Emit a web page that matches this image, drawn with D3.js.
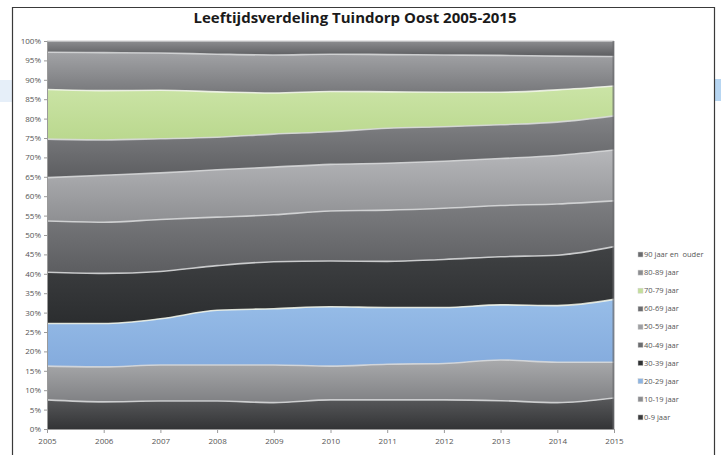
<!DOCTYPE html>
<html>
<head>
<meta charset="utf-8">
<script src="https://cdn.jsdelivr.net/npm/d3@7"></script>
<style>
  body { margin: 0; background: #fff; }
  text { font-family: "Open Sans", "Liberation Sans", sans-serif; }
</style>
</head>
<body>
<div id="chart"></div>
<script>
var years = [2005, 2006, 2007, 2008, 2009, 2010, 2011, 2012, 2013, 2014, 2015];
var labels = ["0-9 jaar", "10-19 jaar", "20-29 jaar", "30-39 jaar", "40-49 jaar",
  "50-59 jaar", "60-69 jaar", "70-79 jaar", "80-89 jaar", "90 jaar en  ouder"];
var yTicks = [0, 5, 10, 15, 20, 25, 30, 35, 40, 45, 50, 55, 60, 65, 70, 75, 80, 85, 90, 95, 100];

// share per age group, percent
var age0_9 = [7.5, 7.0, 7.2, 7.2, 6.8, 7.5, 7.5, 7.5, 7.3, 6.8, 8.0];
var age10_19 = [8.7, 9.0, 9.3, 9.3, 9.7, 8.7, 9.2, 9.4, 10.5, 10.4, 9.2];
var age20_29 = [11.0, 11.2, 11.9, 14.1, 14.5, 15.3, 14.6, 14.4, 14.2, 14.6, 16.2];
var age30_39 = [13.2, 12.9, 12.2, 11.5, 12.1, 11.8, 11.9, 12.4, 12.4, 13.0, 13.6];
var age40_49 = [13.2, 13.2, 13.4, 12.5, 12.1, 12.9, 13.2, 13.2, 13.2, 13.2, 11.8];
var age50_59 = [11.2, 12.1, 12.0, 12.2, 12.3, 12.0, 12.1, 12.1, 12.1, 12.5, 13.1];
var age60_69 = [9.9, 9.1, 8.8, 8.4, 8.5, 8.4, 9.0, 8.9, 8.7, 8.6, 8.8];
var age70_79 = [12.8, 12.7, 12.5, 11.7, 10.6, 10.4, 9.4, 8.9, 8.4, 8.3, 7.7];
var age80_89 = [9.6, 9.8, 9.6, 9.7, 9.8, 9.6, 9.6, 9.6, 9.5, 8.7, 7.6];
var age90 = [2.9, 3.0, 3.1, 3.4, 3.6, 3.4, 3.5, 3.6, 3.7, 3.9, 4.0];

var seriesVals = [age0_9, age10_19, age20_29, age30_39, age40_49,
  age50_59, age60_69, age70_79, age80_89, age90];

// [top colour, bottom colour] per band
var bandColors = [
  ["#58595b", "#333436"],
  ["#a9aaac", "#7f8083"],
  ["#97bde8", "#84abdd"],
  ["#404244", "#2b2d2f"],
  ["#7d7e81", "#5c5d60"],
  ["#b6b7ba", "#8e8f92"],
  ["#828386", "#5d5e61"],
  ["#cbe4a6", "#bad88e"],
  ["#a2a3a6", "#77787b"],
  ["#8c8d90", "#5b5c5f"]
];
var legendSwatch = ["#3a3b3d", "#8c8d90", "#8db4e2", "#2f3133", "#6b6c6f",
  "#9fa0a3", "#6c6d70", "#c4df9b", "#8c8d90", "#6a6b6e"];

var table = years.map(function (yr, i) {
  var row = { year: yr };
  labels.forEach(function (k, j) { row[k] = seriesVals[j][i]; });
  return row;
});

var W = 721, H = 455;
var margin = { top: 41, right: 107, bottom: 26, left: 47 },
  width = W - margin.left - margin.right,
  height = H - margin.top - margin.bottom;

var svg = d3.select("#chart").append("svg")
  .attr("width", W).attr("height", H);

// light blue strips behind the frame
svg.append("rect").attr("x", 0).attr("y", 80).attr("width", 12).attr("height", 22).attr("fill", "#e6eff9");
svg.append("rect").attr("x", 715).attr("y", 79).attr("width", 6).attr("height", 22).attr("fill", "#b7d6f2");

// frame
svg.append("path")
  .attr("d", "M12.5,458 V7.5 H714.5 V458")
  .attr("fill", "none").attr("stroke", "#3a3a3a").attr("stroke-width", 1.2);

svg.append("text")
  .attr("x", 355).attr("y", 23)
  .attr("text-anchor", "middle")
  .style("font-size", "15px").style("font-weight", "bold")
  .attr("fill", "#1a1a1a")
  .text("Leeftijdsverdeling Tuindorp Oost 2005-2015");

var defs = svg.append("defs");
bandColors.forEach(function (c, i) {
  var g = defs.append("linearGradient").attr("id", "grad" + i)
    .attr("x1", 0).attr("y1", 0).attr("x2", 0).attr("y2", 1);
  g.append("stop").attr("offset", "0%").attr("stop-color", c[0]);
  g.append("stop").attr("offset", "100%").attr("stop-color", c[1]);
});

var focus = svg.append("g")
  .attr("transform", "translate(" + margin.left + "," + margin.top + ")");

var x = d3.scaleLinear().domain([2005, 2015]).range([0, width]);
var y = d3.scaleLinear().domain([0, 100]).range([height, 0]);

var stack = d3.stack().keys(labels);
var layers = stack(table);

var area = d3.area()
  .curve(d3.curveMonotoneX)
  .x(function (d) { return x(d.data.year); })
  .y0(function (d) { return y(d[0]); })
  .y1(function (d) { return y(d[1]); });

var topLine = d3.line()
  .curve(d3.curveMonotoneX)
  .x(function (d) { return x(d.data.year); })
  .y(function (d) { return y(d[1]); });

focus.selectAll(".band")
  .data(layers)
  .enter()
  .append("path")
  .attr("class", "band")
  .attr("d", area)
  .attr("fill", function (d, i) { return "url(#grad" + i + ")"; });

// bevel highlight along the top of every band
focus.selectAll(".edge")
  .data(layers)
  .enter()
  .append("path")
  .attr("class", "edge")
  .attr("d", topLine)
  .attr("fill", "none")
  .attr("stroke", function (d, i) { return i == 2 || i == 7 ? "#f4f8ec" : "#d8d9db"; })
  .attr("stroke-width", 1.6)
  .attr("opacity", 0.85);

// darker right-hand edge
focus.append("rect")
  .attr("x", width - 1.5).attr("y", 0).attr("width", 2).attr("height", height)
  .attr("fill", "#6a6b6e").attr("opacity", 0.7);

var xAxis = d3.axisBottom(x)
  .tickValues(years)
  .tickFormat(d3.format("d"))
  .tickSizeInner(4).tickSizeOuter(0);
var yAxis = d3.axisLeft(y)
  .tickValues(yTicks)
  .tickFormat(function (d) { return d + "%"; })
  .tickSizeInner(3).tickSizeOuter(0);

var gx = focus.append("g")
  .attr("transform", "translate(0," + height + ")")
  .call(xAxis);
var gy = focus.append("g").call(yAxis);

[gx, gy].forEach(function (g) {
  g.select(".domain").attr("stroke", "#9a9a9a");
  g.selectAll(".tick line").attr("stroke", "#9a9a9a");
  g.selectAll(".tick text")
    .attr("fill", "#555")
    .style("font-size", "8px");
});
gx.selectAll(".tick text").attr("dy", "1.05em");
gy.selectAll(".tick text").attr("x", -6);

// legend, top to bottom from oldest group
var legend = svg.append("g");
var legendOrder = labels.slice().reverse();
legend.selectAll("g")
  .data(legendOrder)
  .enter()
  .append("g")
  .attr("transform", function (d, i) { return "translate(638," + (257 + i * 18.1) + ")"; })
  .each(function (d, i) {
    var idx = labels.length - 1 - i;
    var g = d3.select(this);
    g.append("rect")
      .attr("x", 0).attr("y", -5).attr("width", 5).attr("height", 5)
      .attr("fill", legendSwatch[idx])
      .attr("stroke", "#d0d0d0").attr("stroke-width", 0.5);
    g.append("text")
      .attr("x", 6).attr("y", 0)
      .attr("fill", "#555")
      .style("font-size", "7.5px")
      .style("white-space", "pre")
      .text(d);
  });
</script>
</body>
</html>
